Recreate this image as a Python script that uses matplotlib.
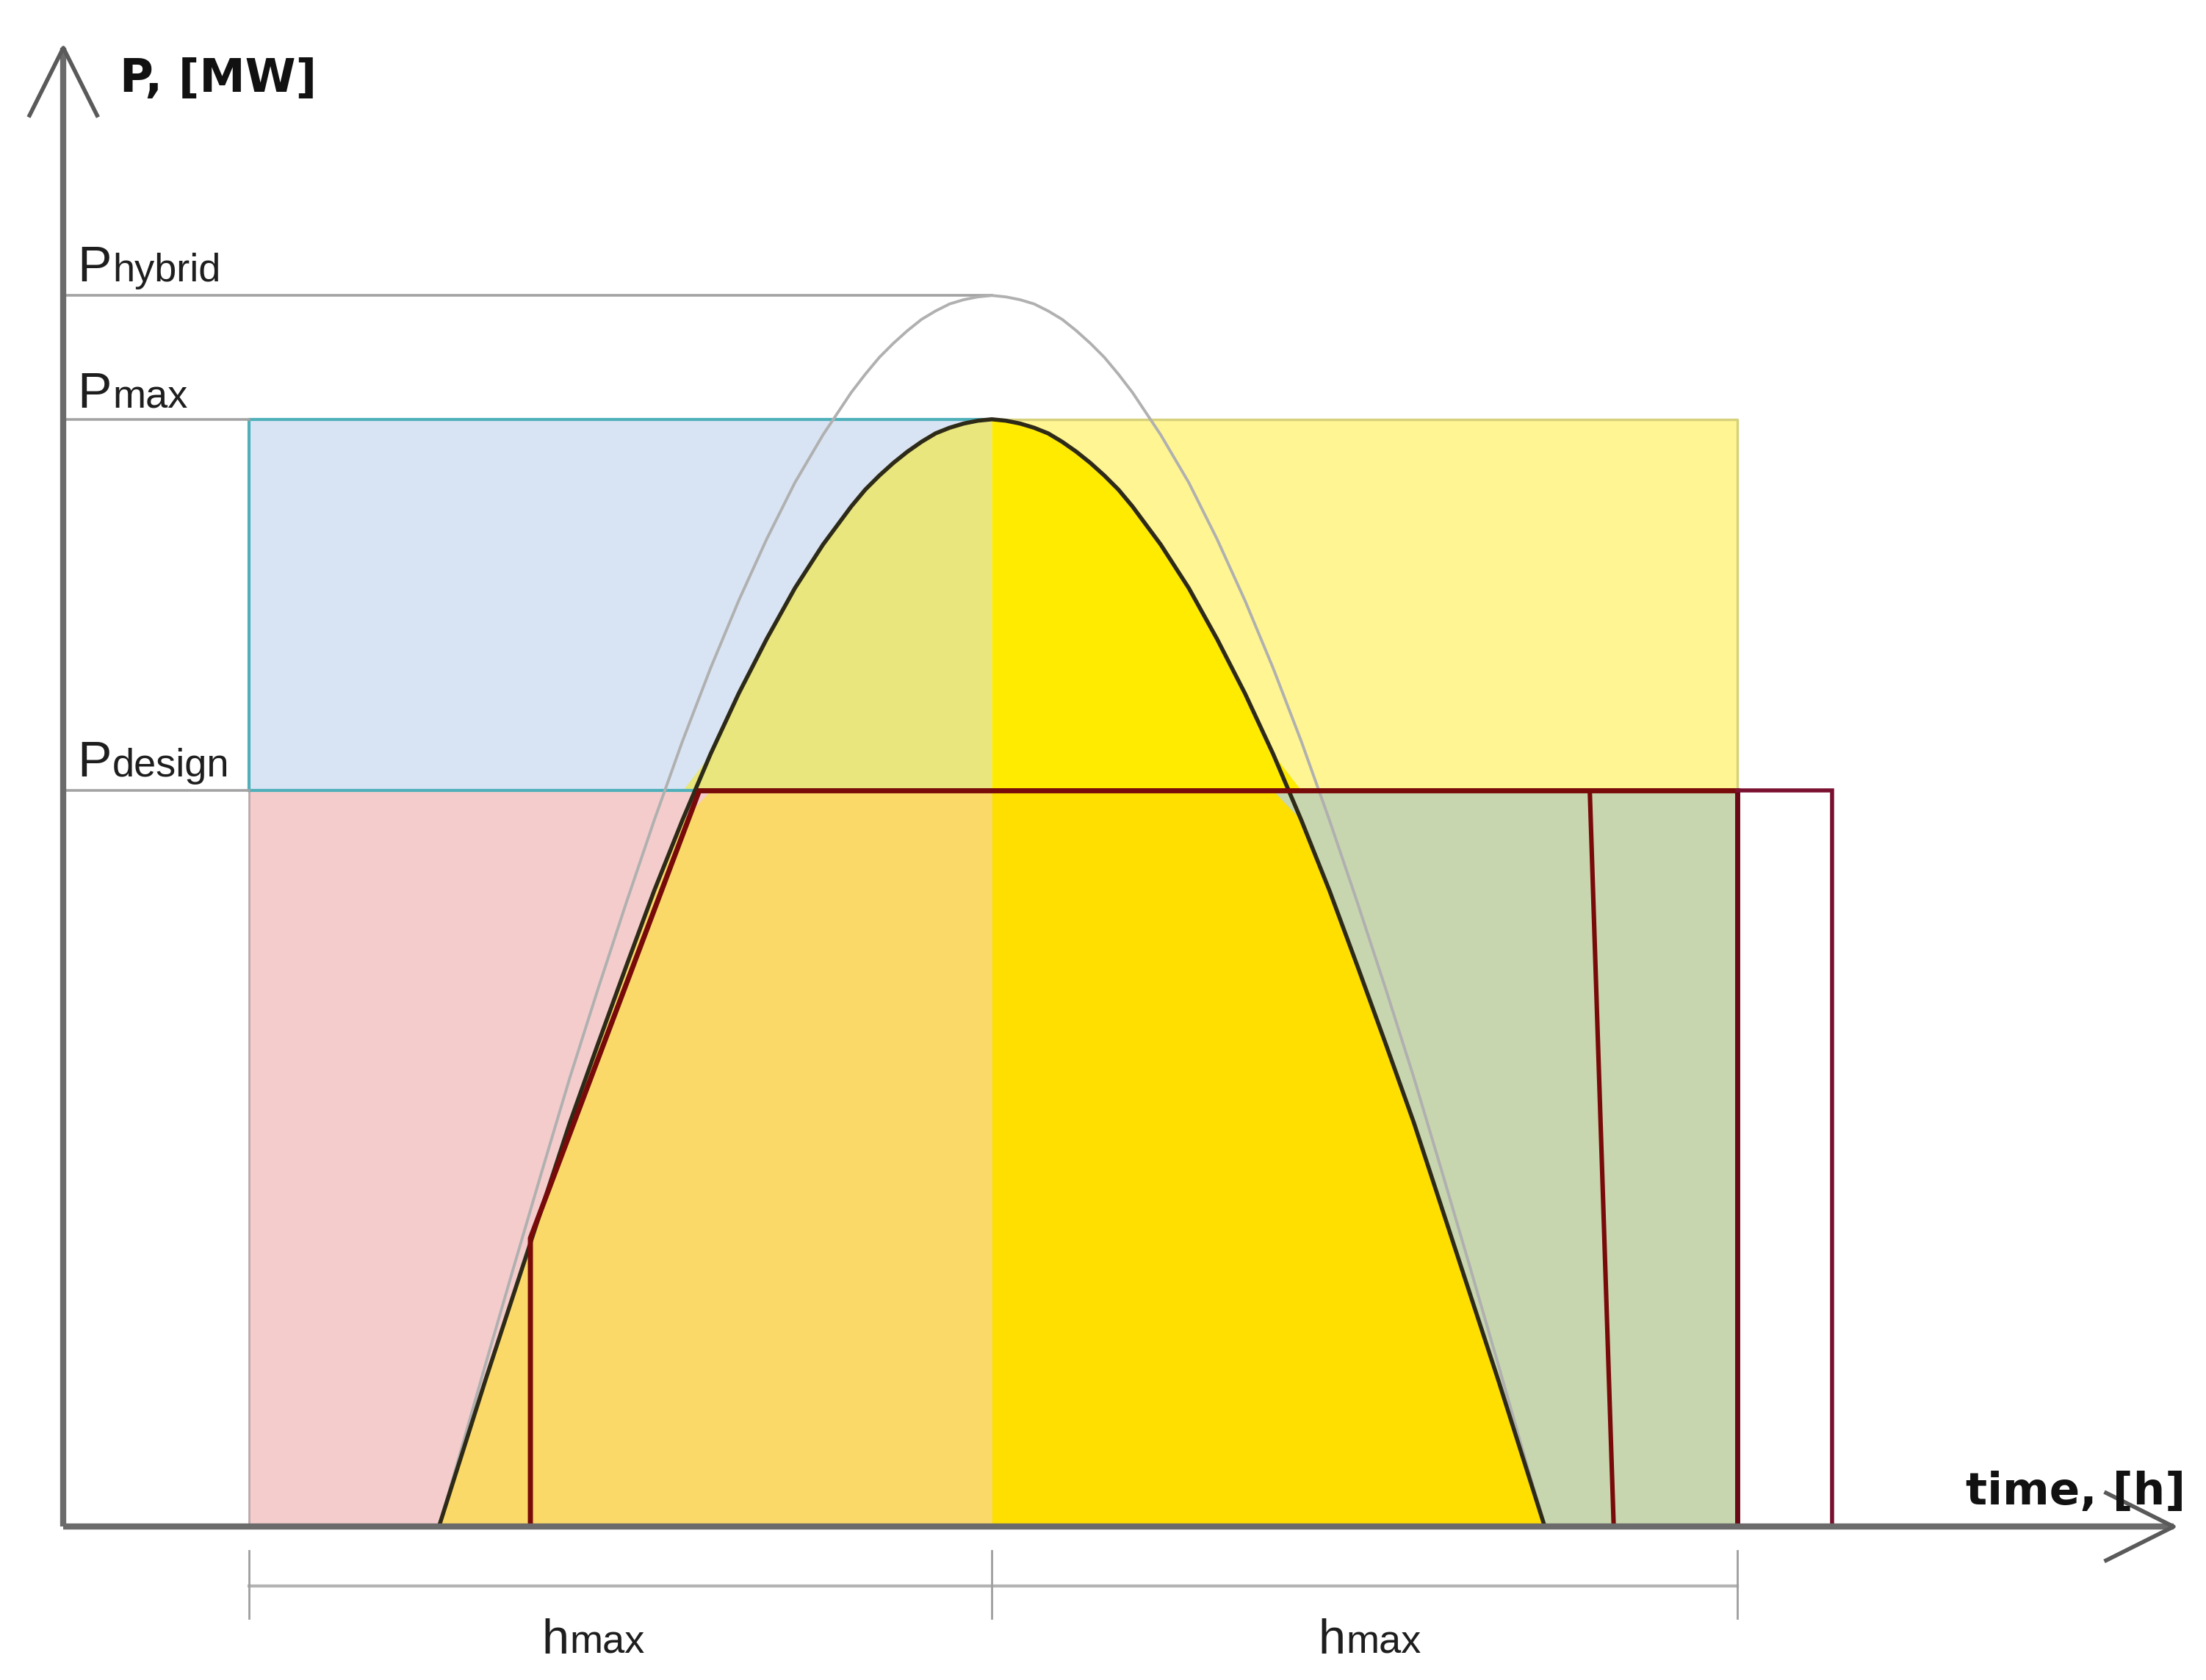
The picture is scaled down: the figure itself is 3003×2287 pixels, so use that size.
import numpy as np
import matplotlib.pyplot as plt

# schematic units: origin where the two axes cross
t = [267, 280, 300, 320, 340, 360, 380, 400, 420, 440, 460, 480, 500, 520, 540,
     560, 570, 580, 590, 600, 610, 620, 630, 640, 650, 660, 670, 680, 690, 700,
     710, 720, 730, 740, 750, 760, 780, 800, 820, 840, 860, 880, 900, 920, 940,
     960, 980, 1000, 1020, 1040, 1053]
p_load = [0, 41, 104, 165, 226, 287, 343, 398, 452, 502, 549, 592, 631, 667, 698,
          725, 737, 747, 756, 764, 771, 777, 781, 784, 786, 787, 786, 784, 781, 777,
          771, 764, 756, 747, 737, 725, 698, 667, 631, 592, 549, 502, 452, 398, 343,
          287, 226, 165, 104, 41, 0]
p_hybrid = [0, 45, 115, 184, 252, 319, 382, 443, 502, 558, 610, 658, 702, 742, 776,
            806, 819, 831, 841, 850, 858, 864, 869, 872, 874, 875, 874, 872, 869, 864,
            858, 850, 841, 831, 819, 806, 776, 742, 702, 658, 610, 558, 502, 443, 382,
            319, 252, 184, 115, 45, 0]

P_HYBRID = 875
P_MAX = 787
P_DESIGN = 523

t_start = 132   # begin of first h_max window
t_peak = 660    # peak time
t_end = 1190    # end of second h_max window
t_outer = 1257

# red design-power envelope
env_t = [332, 332, 452, 1190]
env_p = [0, 205, 523, 523]
outer_t = [1190, 1257, 1257]
outer_p = [523, 523, 0]
cut_t = [1085, 1102]
cut_p = [523, 0]

level_labels = [("P", "hybrid", P_HYBRID + 10), ("P", "max", P_MAX + 8), ("P", "design", P_DESIGN + 10)]
h_labels = [(340, 360), (892, 912)]

fig = plt.figure(figsize=(30.03, 22.87), dpi=100)
ax = fig.add_axes([0, 0, 1, 1])
ax.set_xlim(-45, 1523)
ax.set_ylim(-109, 1085)
ax.axis("off")

tc = np.array(t)
pl = np.array(p_load)
ph = np.array(p_hybrid)

# background blocks
ax.fill_between([t_start, t_peak], 0, P_DESIGN, color="#f4cccc", lw=0)
ax.fill_between([t_start, t_peak], P_DESIGN, P_MAX, color="#d8e4f3", lw=0)
ax.fill_between([t_peak, t_end], P_DESIGN, P_MAX, color="#fff592", lw=0)
ax.fill_between([t_peak, t_end], 0, P_DESIGN, color="#c7d6ae", lw=0)

# area under the load curve
left = tc <= t_peak
right = tc >= t_peak
ax.fill_between(tc, 0, np.minimum(pl, P_DESIGN), where=left, color="#fbd968", lw=0)
ax.fill_between(tc, P_DESIGN, np.maximum(pl, P_DESIGN), where=left, color="#e8e67c", lw=0)
ax.fill_between(tc, 0, np.minimum(pl, P_DESIGN), where=right, color="#ffdf00", lw=0)
ax.fill_between(tc, P_DESIGN, np.maximum(pl, P_DESIGN), where=right, color="#ffeb00", lw=0)

# block edges
ax.plot([t_start, t_start], [0, P_DESIGN], color="#b9a9a9", lw=2)
ax.plot([t_start, t_start, t_peak], [P_DESIGN, P_MAX, P_MAX], color="#4fb0ba", lw=3)
ax.plot([t_start, 452], [P_DESIGN, P_DESIGN], color="#4fb0ba", lw=3)
ax.plot([t_peak, t_end, t_end], [P_MAX, P_MAX, P_DESIGN], color="#d6d17a", lw=2.4)

# reference levels
ax.plot([0, t_peak], [P_HYBRID, P_HYBRID], color="#a3a3a3", lw=2.6)
ax.plot([0, t_start], [P_MAX, P_MAX], color="#a3a3a3", lw=2.6)
ax.plot([0, t_start], [P_DESIGN, P_DESIGN], color="#a3a3a3", lw=2.6)

# curves
ax.plot(tc, ph, color="#b0b0b0", lw=2.8)
ax.plot(tc, pl, color="#2e2a18", lw=4)

# red lines
ax.plot(env_t, env_p, color="#780a0a", lw=5, solid_joinstyle="miter")
ax.plot([t_end, t_end], [0, P_DESIGN], color="#6a0818", lw=5)
ax.plot(cut_t, cut_p, color="#780a0a", lw=4.4)
ax.plot(outer_t, outer_p, color="#7a1030", lw=4, solid_joinstyle="miter")

# axes with open arrow heads
ax.plot([0, 0], [0, 1051], color="#6b6b6b", lw=6, solid_capstyle="butt")
ax.plot([0, 1500], [0, 0], color="#6b6b6b", lw=6, solid_capstyle="butt")
ax.plot([-24, 0, 24], [1003, 1051, 1003], color="#5a5a5a", lw=4)
ax.plot([1452, 1500, 1452], [24, 0, -24], color="#5a5a5a", lw=4)

# h_max brackets
ax.plot([t_start, t_end], [-42, -42], color="#b3b3b3", lw=3)
for x in [t_start, t_peak, t_end]:
    ax.plot([x, x], [-17, -65], color="#9e9e9e", lw=2)

# labels
ax.text(40, 1020, "P, [MW]", fontsize=45, fontweight="bold", family="DejaVu Sans",
        ha="left", va="baseline", color="#111111")
ax.text(1352, 16, "time, [h]", fontsize=44, fontweight="bold", family="DejaVu Sans",
        ha="left", va="baseline", color="#111111")
for big, small, y in level_labels:
    ax.text(10, y, big, fontsize=50, family="Liberation Sans", ha="left", va="baseline", color="#1e1e1e")
    ax.text(35, y, small, fontsize=39, family="Liberation Sans", ha="left", va="baseline", color="#1e1e1e")
for xh, xs in h_labels:
    ax.text(xh, -90, "h", fontsize=48, family="Liberation Sans", ha="left", va="baseline", color="#1e1e1e")
    ax.text(xs, -90, "max", fontsize=39, family="Liberation Sans", ha="left", va="baseline", color="#1e1e1e")

fig.savefig("out.png", dpi=100)
